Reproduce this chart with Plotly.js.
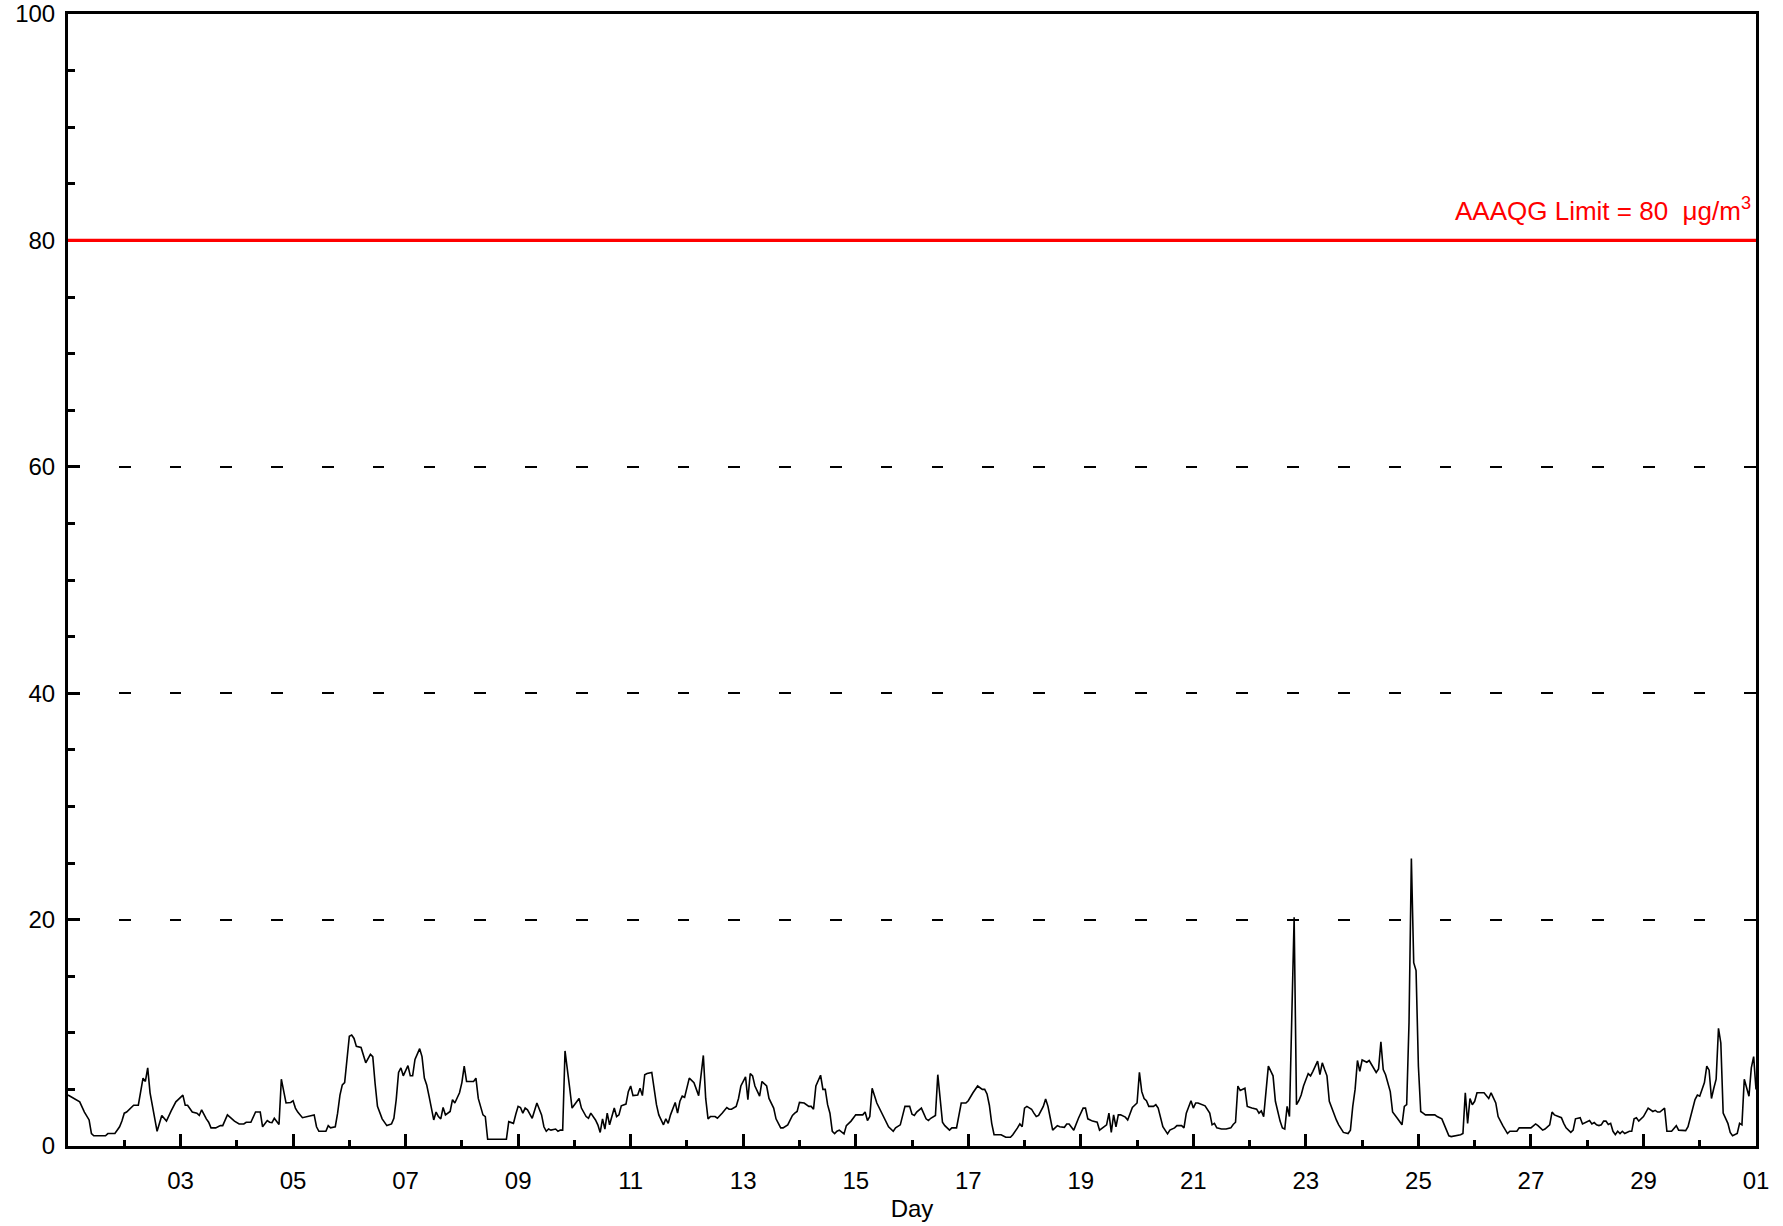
<!DOCTYPE html>
<html>
<head>
<meta charset="utf-8">
<script src="https://cdn.plot.ly/plotly-3.0.1.min.js"></script>
<style>html,body{margin:0;padding:0;background:#fff;}</style>
</head>
<body>
<div id="chart" style="width:1783px;height:1226px;"></div>
<script>
// Hours since the start of the month (day 01 00:00) and the concentration (µg/m3) read at that hour
const hours = [
0,3,5,7,9,10,11,16,17,20,22,23,24,25,27,28,30,31,32,33,34,35,37,38,40,42,44,46,47,49,50,51,53,55,56,57,59,60,61,63,65,
66,68,71,73,75,76,78,80,82,83,85,86,87,88,90,91,93,95,96,97,98,100,102,103,105,106,107,110,111,112,114,115,116,117,118,120,121,122,123,125,126,127,129,130,131,
132,134,136,138,139,140,141,142,143,145,146,147,148,150,151,152,153,154,155,156,157,158,159,160,161,163,164,165,167,168,169,170,172,173,174,175,177,178,179,187,188,190,191,192,193,194,195,196,
198,200,202,203,204,205,206,208,209,210,211,212,214,215,218,219,221,222,223,225,226,227,228,229,230,231,233,234,235,236,238,239,240,241,243,244,245,246,247,249,251,252,254,255,256,257,259,260,261,262,
263,265,267,268,269,271,272,273,274,276,277,279,281,282,283,285,286,287,289,290,291,292,293,295,296,298,299,301,302,304,305,307,309,310,311,312,314,316,317,318,319,321,322,323,324,325,326,327,328,
329,331,332,334,336,339,340,341,342,343,345,347,349,350,352,353,355,356,357,359,360,361,362,364,366,367,368,370,371,373,374,376,377,379,380,381,383,384,386,388,390,391,392,393,394,
395,398,400,402,403,405,406,407,408,409,411,412,413,414,416,417,418,419,420,422,423,425,426,427,429,431,433,434,435,437,439,440,442,443,444,445,446,447,448,449,451,452,454,455,456,457,458,459,
460,461,463,464,465,467,469,470,472,473,475,476,477,479,480,481,482,485,487,488,489,490,492,494,496,497,498,499,500,502,503,505,507,508,509,510,512,514,515,517,518,519,520,521,523,524,
525,526,527,529,530,531,532,533,534,535,536,537,538,540,541,542,544,546,547,548,549,550,551,552,554,555,556,558,559,560,561,562,564,565,567,569,570,571,572,573,574,575,576,577,578,579,583,584,586,587,589,590,
592,594,595,596,597,598,599,600,601,604,606,607,609,610,612,614,615,618,619,624,626,627,629,630,632,633,634,637,638,639,641,642,643,645,646,647,649,650,651,652,653,654,655,656,
657,658,659,660,661,662,663,664,666,667,668,669,670,672,673,674,676,677,678,679,681,682,684,686,687,690,691,693,694,695,696,698,699,700,701,702,703,704,705,706,708,709,710,712,713,714,715,717,718,719,720
];
const conc = [
4.5,4.1,3.9,3.0,2.3,1.1,0.9,0.9,1.1,1.1,1.7,2.2,2.9,3.0,3.4,3.6,3.6,5.0,6.0,5.7,6.9,4.7,2.6,1.3,2.7,2.2,3.1,3.9,4.1,4.5,3.6,3.6,3.0,2.9,2.7,3.2,2.4,2.1,1.6,1.6,1.8,
1.8,2.75,2.2,1.95,1.95,2.1,2.1,3.0,3.0,1.7,2.25,2.1,2.07,2.45,1.9,5.9,3.8,3.85,4.0,3.35,3.0,2.5,2.6,2.6,2.75,1.7,1.3,1.3,1.8,1.6,1.7,2.9,4.5,5.4,5.6,9.7,9.8,9.5,8.8,8.7,8.1,7.35,8.1,7.9,5.5,
3.5,2.4,1.8,1.95,2.45,4.1,6.5,6.9,6.2,7.1,6.2,6.2,7.65,8.6,7.9,6.0,5.4,4.4,3.35,2.3,3.0,2.6,2.4,3.4,2.75,3.05,4.1,3.8,4.7,5.6,7.05,5.7,5.7,5.7,6.0,4.2,2.75,2.6,0.6,0.6,2.15,2.0,2.8,3.5,3.4,2.9,3.35,3.2,
2.45,3.8,2.75,1.7,1.3,1.5,1.4,1.5,1.3,1.4,1.4,8.4,5.1,3.35,4.2,3.35,2.6,2.45,2.9,2.3,1.87,1.2,2.4,1.5,2.9,1.87,3.35,2.6,2.75,3.55,3.7,4.8,5.3,4.45,4.5,5.1,4.45,6.3,6.4,6.5,3.65,2.75,1.87,2.4,2.0,2.75,3.85,2.9,3.95,4.4,
4.3,6.0,5.6,5.1,4.45,8.0,4.2,2.4,2.6,2.6,2.45,2.9,3.4,3.25,3.25,3.5,4.2,5.3,6.1,4.1,6.4,6.2,5.3,4.4,5.7,5.3,4.2,3.35,2.4,1.6,1.6,1.87,2.7,2.9,3.05,3.85,3.8,3.5,3.5,3.25,5.3,6.25,5.0,5.0,3.65,2.9,1.3,1.1,1.3,
1.4,1.07,1.8,2.2,2.75,2.75,3.0,2.25,2.6,5.1,3.8,2.9,2.1,1.7,1.3,1.6,1.87,2.6,3.5,3.5,2.8,2.7,3.0,3.35,2.4,2.25,2.45,2.7,6.3,2.1,1.8,1.4,1.6,1.6,2.6,3.8,3.8,4.0,4.7,5.3,5.0,5.0,4.6,3.6,2.0,
1.0,1.0,0.77,0.77,1.0,1.6,1.95,1.7,3.35,3.5,3.25,2.9,2.6,2.7,3.5,4.15,3.5,2.45,1.4,1.8,1.7,1.65,1.95,1.95,1.4,2.45,3.35,3.35,2.4,2.2,2.1,1.4,1.7,1.87,2.9,1.2,2.75,1.7,2.75,2.75,2.55,2.3,3.4,3.65,3.8,6.5,4.8,4.2,
4.0,3.5,3.5,3.65,3.35,1.7,1.07,1.4,1.6,1.8,1.8,1.6,2.9,4.0,3.35,3.8,3.8,3.55,2.9,1.87,2.0,1.6,1.5,1.5,1.6,1.9,2.1,5.3,4.9,5.1,3.5,3.35,3.25,2.9,3.1,2.6,7.05,6.2,3.95,2.2,1.6,1.5,3.5,2.6,20.2,3.65,
4.0,4.5,5.3,6.4,6.2,6.6,7.1,7.5,6.3,7.35,6.75,6.2,3.95,2.75,2.3,1.87,1.2,1.1,1.4,3.5,5.0,7.55,6.6,7.6,7.4,7.55,7.2,6.5,6.8,9.2,6.75,6.3,4.8,3.0,2.45,1.87,3.5,3.65,10.9,25.4,16.2,15.5,7.05,3.05,2.9,2.75,2.75,2.6,2.4,1.87,0.9,0.83,
0.9,1.0,1.1,4.7,2.0,4.2,3.65,3.95,4.7,4.7,4.2,4.7,3.8,2.6,1.8,1.1,1.3,1.3,1.6,1.6,1.95,1.8,1.4,1.5,1.87,3.0,2.75,2.5,2.0,1.6,1.2,1.4,2.4,2.5,1.95,2.07,2.25,1.95,2.07,1.87,1.8,1.87,2.2,2.2,
1.9,2.0,1.3,1.0,1.3,1.1,1.3,1.1,1.3,1.3,2.4,2.5,2.2,2.6,3.05,3.35,3.05,3.15,3.0,3.0,3.35,1.3,1.3,1.8,1.4,1.36,1.7,3.2,4.1,4.5,4.4,5.6,7.05,6.7,4.2,5.1,5.9,10.4,9.1,2.9,2.0,1.2,0.9,1.1,2.0,1.87,5.9,4.4,6.9,7.9,5.0
];
const limitValue = 80;
const limitLabel = 'AAAQG Limit = 80\u00a0\u00a0\u03bcg/m<sup>3</sup>';
const labeledDays = [3,5,7,9,11,13,15,17,19,21,23,25,27,29,31];
const dayLabels = ['03','05','07','09','11','13','15','17','19','21','23','25','27','29','01'];
const minorDays = [2,4,6,8,10,12,14,16,18,20,22,24,26,28,30];
const yTicks = [0,20,40,60,80,100];
const xTitle = 'Day';

const dayPos = hours.map(h => 1 + h / 24);

const FONT = '"Liberation Sans", Arial, Helvetica, sans-serif';

const trace = {
  x: dayPos, y: conc, type: 'scatter', mode: 'lines',
  line: {color: '#000000', width: 1.6}, hoverinfo: 'skip', showlegend: false
};

const layout = {
  width: 1783, height: 1226,
  margin: {l: 68, r: 27, t: 14, b: 80, pad: 0},
  paper_bgcolor: '#ffffff', plot_bgcolor: '#ffffff',
  font: {family: FONT, size: 24, color: '#000000'},
  showlegend: false,
  xaxis: {
    range: [1, 31], type: 'linear',
    tickmode: 'array', tickvals: labeledDays, ticktext: dayLabels,
    tickfont: {family: FONT, size: 24, color: '#000'},
    ticks: 'inside', ticklen: 12, tickwidth: 3, tickcolor: '#000',
    ticklabelstandoff: 11,
    showline: true, linewidth: 3, linecolor: '#000', mirror: true,
    showgrid: false, zeroline: false,
    minor: {tickmode: 'array', tickvals: minorDays, ticks: 'inside', ticklen: 6, tickwidth: 3, tickcolor: '#000', showgrid: false},
    title: {text: xTitle, font: {family: FONT, size: 24, color: '#000'}, standoff: 8},
    automargin: false
  },
  yaxis: {
    range: [0, 100], type: 'linear',
    tickmode: 'array', tickvals: yTicks,
    tickfont: {family: FONT, size: 24, color: '#000'},
    ticks: 'inside', ticklen: 12, tickwidth: 3, tickcolor: '#000',
    ticklabelstandoff: 5,
    showline: true, linewidth: 3, linecolor: '#000', mirror: true,
    showgrid: true, gridcolor: '#000', gridwidth: 2, griddash: '11.7px,39.1px',
    zeroline: false,
    minor: {dtick: 5, tick0: 0, ticks: 'inside', ticklen: 7, tickwidth: 3, tickcolor: '#000', showgrid: false},
    automargin: false
  },
  shapes: [{
    type: 'line', xref: 'paper', x0: 0, x1: 1, yref: 'y', y0: limitValue, y1: limitValue,
    line: {color: '#ff0000', width: 3.4}, layer: 'above'
  }],
  annotations: [{
    xref: 'paper', x: 1, xanchor: 'right', xshift: -3,
    yref: 'y', y: limitValue, yanchor: 'bottom', yshift: 12,
    text: limitLabel, showarrow: false,
    font: {family: FONT, size: 26, color: '#ff0000'}
  }]
};

Plotly.newPlot('chart', [trace], layout, {staticPlot: true, displayModeBar: false});
</script>
</body>
</html>
